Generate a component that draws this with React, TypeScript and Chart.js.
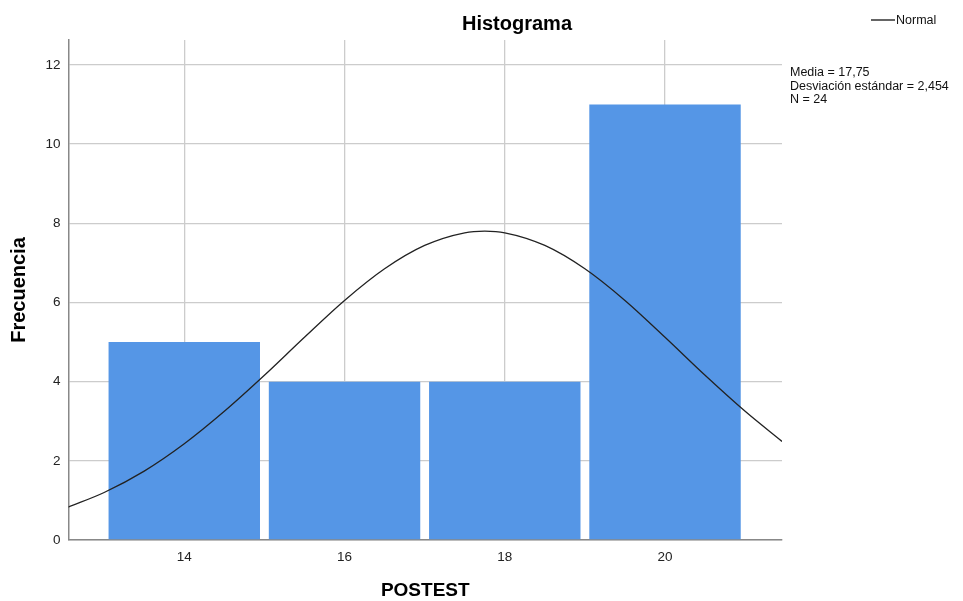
import React, { useEffect, useRef } from "react";
import { Chart, registerables } from "chart.js";

Chart.register(...registerables);

// Histogram bins (centres) and frequencies
const binCenters = [14, 16, 18, 20];
const frequencies = [5, 4, 4, 11];

// Normal curve
const curveX = [12.55, 13, 13.5, 14, 14.5, 15, 15.5, 16, 16.5, 17, 17.5, 17.75, 18, 18.5, 19, 19.5, 20, 20.5, 21, 21.46];
const curveY = [0.83, 1.2, 1.74, 2.43, 3.25, 4.16, 5.12, 6.05, 6.85, 7.44, 7.76, 7.8, 7.76, 7.44, 6.85, 6.05, 5.12, 4.16, 3.25, 2.49];

const yTicks = [0, 2, 4, 6, 8, 10, 12];

const chartTitle = "Histograma";
const xTitle = "POSTEST";
const yTitle = "Frecuencia";
const legendLabel = "Normal";
const statsLines = ["Media = 17,75", "Desviación estándar = 2,454", "N = 24"];

const FONT = "'Liberation Sans', Arial, sans-serif";

export default function App() {
  const ref = useRef<HTMLCanvasElement | null>(null);

  useEffect(() => {
    document.body.style.margin = "0";
    const canvas = ref.current;
    if (!canvas) return;

    const textPlugin = {
      id: "textPlugin",
      afterDraw(chart: any) {
        const ctx = chart.ctx as CanvasRenderingContext2D;
        const area = chart.chartArea;
        ctx.save();
        ctx.fillStyle = "#000";
        // Title
        ctx.font = `bold 20px ${FONT}`;
        ctx.textAlign = "center";
        ctx.textBaseline = "middle";
        ctx.fillText(chartTitle, 517, 24);
        // X title
        ctx.font = `bold 19px ${FONT}`;
        ctx.fillText(xTitle, (area.left + area.right) / 2, 591);
        // Y title
        ctx.save();
        ctx.translate(19, (area.top + area.bottom) / 2);
        ctx.rotate(-Math.PI / 2);
        ctx.font = `bold 20px ${FONT}`;
        ctx.fillText(yTitle, 0, 0);
        ctx.restore();
        // Legend
        ctx.strokeStyle = "#111";
        ctx.lineWidth = 1.3;
        ctx.beginPath();
        ctx.moveTo(871, 20);
        ctx.lineTo(895, 20);
        ctx.stroke();
        ctx.font = `12.5px ${FONT}`;
        ctx.textAlign = "left";
        ctx.fillStyle = "#111";
        ctx.fillText(legendLabel, 896, 21);
        // Stats
        statsLines.forEach((s, i) => ctx.fillText(s, 790, 73 + i * 13.5));
        ctx.restore();
      },
    };

    const chart = new Chart(canvas, {
      data: {
        datasets: [
          {
            type: "line",
            label: legendLabel,
            data: curveX.map((x, i) => ({ x, y: curveY[i] })),
            borderColor: "#222222",
            borderWidth: 1.3,
            pointRadius: 0,
            tension: 0.4,
            cubicInterpolationMode: "monotone",
            fill: false,
            order: 0,
          } as any,
          {
            type: "bar",
            label: "Frecuencia",
            data: binCenters.map((x, i) => ({ x, y: frequencies[i] })),
            backgroundColor: "#5596e6",
            borderWidth: 0,
            barPercentage: 0.945,
            categoryPercentage: 1,
            order: 1,
          } as any,
        ],
      },
      options: {
        animation: false,
        responsive: false,
        layout: { padding: { top: 40, right: 181, left: 0, bottom: 0 } },
        plugins: {
          legend: { display: false },
          tooltip: { enabled: false },
          title: { display: false },
        },
        scales: {
          x: {
            type: "linear",
            min: 12.555,
            max: 21.46,
            offset: false,
            afterFit: (s: any) => {
              s.height = 61;
            },
            ticks: {
              stepSize: 2,
              includeBounds: false,
              font: { family: FONT, size: 13.5 },
              color: "#222",
              padding: 9,
              maxRotation: 0,
            },
            grid: { color: "#cccccc", lineWidth: 1.3, drawTicks: false, offset: false },
            border: { color: "#888888", width: 1.5 },
          },
          y: {
            type: "linear",
            min: 0,
            max: 12.63,
            afterFit: (s: any) => {
              s.width = 68.5;
            },
            afterBuildTicks: (s: any) => {
              s.ticks = yTicks.map((v) => ({ value: v }));
            },
            ticks: {
              font: { family: FONT, size: 13.5 },
              color: "#222",
              padding: 8,
            },
            grid: { color: "#cccccc", lineWidth: 1.3, drawTicks: false },
            border: { color: "#888888", width: 1.5 },
          },
        },
      },
      plugins: [textPlugin],
    } as any);

    return () => chart.destroy();
  }, []);

  return (
    <div style={{ width: 963, height: 601, background: "#fff" }}>
      <canvas ref={ref} width={963} height={601} style={{ width: 963, height: 601, display: "block" }} />
    </div>
  );
}
